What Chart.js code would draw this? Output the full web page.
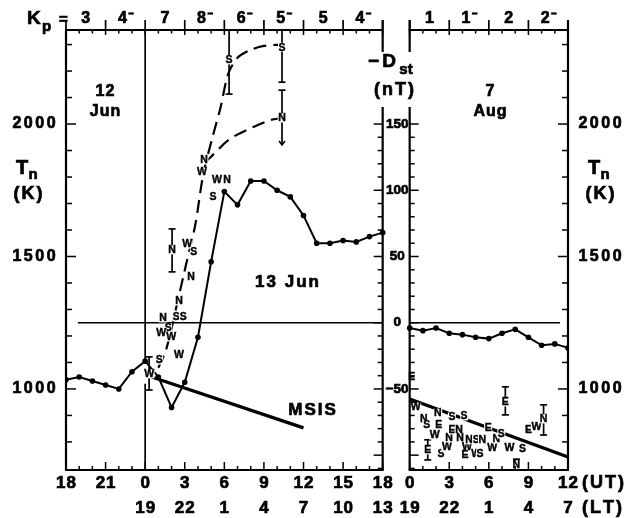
<!DOCTYPE html>
<html>
<head>
<script src="https://cdn.jsdelivr.net/npm/chart.js@4.4.0/dist/chart.umd.min.js"></script>
<style>
  body { margin: 0; background: #fff; }
</style>
</head>
<body>
<canvas id="chart" width="636" height="518"></canvas>

<script>
// ---- data (hours are UT) ----
// -Dst, hourly, 12-13 Jun (left panel) and 7 Aug (right panel)
var dstJunHours = [-6,-5,-4,-3,-2,-1,0,1,2,3,4,5,6,7,8,9,10,11,12,13,14,15,16,17,18];
var dstJun = [-43,-41,-44,-47,-50,-37,-29,-41,-64,-45,-11,46,99,89,107,107,100,95,81,60,60,62,61,65,68];
var dstAugHours = [0,1,2,3,4,5,6,7,8,9,10,11,12];
var dstAug = [-4,-6,-4,-8,-9,-11,-12,-8,-5,-11,-17,-16,-19];

// MSIS model Tn
var msisJunHours = [0.5, 12];
var msisJun = [1045, 853];
var msisAugHours = [0, 12];
var msisAug = [962, 743];

// dashed Tn trends, 13 Jun
var upperHours = [1.0, 1.6, 2.5, 3.1, 3.8, 4.4, 5.1, 5.7, 6.3, 7.0, 8.0, 9.0, 10.4];
var upperTn = [1080, 1150, 1340, 1470, 1620, 1810, 1950, 2060, 2190, 2250, 2280, 2295, 2300];
var lowerHours = [4.5, 4.9, 6.4, 8.2, 9.5, 10.4];
var lowerTn = [1855, 1872, 1943, 1989, 2015, 2023];

// Tn measurements by site letter
var letJun = ['W','N','W','S','N','N','N','S','S','S','W','W','W','S','N','W','W','N','S','S','S','N'];
var letJunHours = [0.3,2.04,3.18,3.69,3.48,2.57,1.36,2.35,2.88,1.74,1.21,1.97,2.57,1.06,4.47,4.31,5.45,6.2,5.15,6.36,10.37,10.37];
var letJunTn = [1057,1525,1547,1517,1423,1332,1268,1272,1272,1230,1211,1196,1128,1109,1864,1819,1789,1789,1725,2242,2290,2023];

var letAug = ['E','W','N','S','W','N','E','E','S','W','N','S','S','E','N','N','W','E','N','S','N','W','S','W','N','E','S','E','W','S','N','E','W','N'];
var letAugHours = [0.15,0.46,1.07,1.3,1.9,2.14,2.2,1.37,2.37,2.82,2.98,3.2,4.12,3.2,3.74,3.82,4.35,4.2,4.5,5.04,5.5,5.04,5.34,6.26,6.56,5.95,6.95,7.25,7.56,8.55,8.09,9.0,9.6,10.15];
var letAugTn = [1045,932,887,864,826,909,864,770,755,781,815,894,898,845,845,815,781,751,808,808,808,755,755,777,811,853,830,951,777,774,713,845,857,887];

// error bars (Tn range)
var errJunHours = [0.3, 2.04, 6.36, 10.37, 10.37];
var errJunHi = [1121, 1604, 2420, 2420, 2128];
var errJunLo = [996, 1442, 2113, 2158, 1921];
var errAugHours = [1.37, 7.25, 10.15, 8.09];
var errAugHi = [808, 1008, 940, 735];
var errAugLo = [732, 902, 826, 680];

// Kp and axis labels
var kpJun = ['3','4-','7','8-','6-','5-','5','4-'];
var kpAug = ['1','1-','2','2-'];
var utJun = ['18','21','0','3','6','9','12','15','18'];
var ltJun = ['19','22','1','4','7','10','13'];
var utAug = ['0','3','6','9','12'];
var ltAug = ['19','22','1','4','7'];
var tnLabels = [1000, 1500, 2000];
var dstLabels = [150, 100, 50, 0, -50];

// ---- scale setup ----
var TN_MIN = 694, TN_MAX = 2355;
var GAP = 24 + 27 / 13.2;          // where the Aug panel starts on the shared hour axis
function uJun(t) { return t + 6; }
function uAug(t) { return GAP + t; }
function pts(hrs, vals, f) { return hrs.map(function (h, i) { return { x: f(h), y: vals[i] }; }); }

var FONT = '"Liberation Sans", Arial, sans-serif';

// bold text, drawn char by char so the wide lettering spacing can be matched
function txt(ctx, s, x, y, size, align, sp) {
  ctx.font = 'bold ' + size + 'px ' + FONT;
  sp = sp || 0;
  var ws = [], w = 0;
  for (var i = 0; i < s.length; i++) { var cw = ctx.measureText(s[i]).width; ws.push(cw); w += cw; }
  w += sp * (s.length - 1);
  var x0 = align === 'left' ? x : (align === 'right' ? x - w : x - w / 2);
  ctx.textAlign = 'left';
  ctx.textBaseline = 'middle';
  ctx.lineWidth = 0.7;
  for (i = 0; i < s.length; i++) { ctx.fillText(s[i], x0, y); ctx.strokeText(s[i], x0, y); x0 += ws[i] + sp; }
  return w;
}

function lineSeg(ctx, x1, y1, x2, y2, w) {
  ctx.lineWidth = w || 1.5;
  ctx.beginPath(); ctx.moveTo(x1, y1); ctx.lineTo(x2, y2); ctx.stroke();
}

var decor = {
  id: 'decor',
  afterDatasetsDraw: function (chart) {
    var ctx = chart.ctx;
    var xs = chart.scales.x, ys = chart.scales.y, yd = chart.scales.yd;
    var X = function (u) { return xs.getPixelForValue(u); };
    var Y = function (t) { return ys.getPixelForValue(t); };
    var YD = function (d) { return yd.getPixelForValue(d); };
    var top = chart.chartArea.top, bot = chart.chartArea.bottom;
    var xL = X(0), xM1 = X(24), xM2 = X(GAP), xR = X(GAP + 12);
    ctx.save();
    ctx.strokeStyle = '#000';
    ctx.fillStyle = '#000';

    // error bars
    function bars(hrs, hi, lo, f, arrowIdx) {
      ctx.save();
      ctx.beginPath(); ctx.rect(chart.chartArea.left, top, chart.chartArea.right - chart.chartArea.left, bot - top); ctx.clip();
      for (var i = 0; i < hrs.length; i++) {
        var x = X(f(hrs[i])), y1 = Y(hi[i]), y2 = Y(lo[i]);
        lineSeg(ctx, x, y1, x, y2, 1.7);
        if (hi[i] < TN_MAX) lineSeg(ctx, x - 3.5, y1, x + 3.5, y1, 1.7);
        if (i === arrowIdx) {
          ctx.beginPath(); ctx.moveTo(x - 3, y2 - 4); ctx.lineTo(x, y2); ctx.lineTo(x + 3, y2 - 4); ctx.lineWidth = 1.5; ctx.stroke();
        } else {
          lineSeg(ctx, x - 3.5, y2, x + 3.5, y2, 1.7);
        }
      }
      ctx.restore();
    }
    bars(errJunHours, errJunHi, errJunLo, uJun, 4);
    bars(errAugHours, errAugHi, errAugLo, uAug, -1);

    // site letters
    function letters(ls, hrs, tns, f) {
      ctx.font = 'bold 10.5px ' + FONT;
      ctx.textAlign = 'center'; ctx.textBaseline = 'middle';
      ctx.lineWidth = 0.4;
      for (var i = 0; i < ls.length; i++) {
        var x = X(f(hrs[i])), y = Y(tns[i]);
        var w = ctx.measureText(ls[i]).width;
        ctx.fillStyle = '#fff';
        ctx.fillRect(x - w / 2 - 0.5, y - 4.5, w + 1, 9);
        ctx.fillStyle = '#000';
        ctx.fillText(ls[i], x, y + 0.5);
        ctx.strokeText(ls[i], x, y + 0.5);
      }
    }
    letters(letJun, letJunHours, letJunTn, uJun);
    letters(letAug, letAugHours, letAugTn, uAug);

    // frames
    var w = 2.2;
    lineSeg(ctx, xL, top, xL, bot, w);
    lineSeg(ctx, xL - 1, top, xM1, top, w);
    lineSeg(ctx, xL - 1, bot, xM1 + 1, bot, w);
    lineSeg(ctx, xM2 - 1, top, xR, top, w);
    lineSeg(ctx, xM2 - 1, bot, xR + 1, bot, w);
    lineSeg(ctx, xR, top - 10, xR, bot, w);
    [xM1, xM2].forEach(function (x) {
      lineSeg(ctx, x, top - 10, x, 52, w);
      lineSeg(ctx, x, 107, x, bot, w);
    });

    // hour ticks + Kp separators
    function hourTicks(u0, n) {
      for (var h = 0; h <= n; h++) {
        var x = X(u0 + h), len = h % 3 === 0 ? 8 : 4;
        lineSeg(ctx, x, bot, x, bot - len, 1.5);
        lineSeg(ctx, x, top, x, top + (h % 3 === 0 ? 5 : 3.5), 1.5);
        if (h % 3 === 0) lineSeg(ctx, x, top, x, top - 10, 1.7);
      }
    }
    hourTicks(0, 24);
    hourTicks(GAP, 12);

    // Tn ticks
    for (var t = 800; t <= 2300; t += 100) {
      var len = t % 500 === 0 ? 10 : 6;
      lineSeg(ctx, xL, Y(t), xL + len, Y(t), 1.5);
      lineSeg(ctx, xR, Y(t), xR - len, Y(t), 1.5);
    }
    // Dst ticks
    for (var d = -110; d <= 150; d += 10) {
      var l2 = d % 50 === 0 ? 9 : 5;
      lineSeg(ctx, xM1, YD(d), xM1 - l2, YD(d), 1.5);
      lineSeg(ctx, xM2, YD(d), xM2 + l2, YD(d), 1.5);
    }

    // axis labels
    ctx.fillStyle = '#000';
    utJun.forEach(function (s, i) { txt(ctx, s, X(i * 3), 483, 17, 'center', 1); });
    ltJun.forEach(function (s, i) { txt(ctx, s, X(6 + i * 3), 508, 17, 'center', 1); });
    utAug.forEach(function (s, i) { txt(ctx, s, X(GAP + i * 3), 483, 17, 'center', 1); });
    ltAug.forEach(function (s, i) { txt(ctx, s, X(GAP + i * 3), 508, 17, 'center', 1); });
    txt(ctx, '(UT)', 582, 483, 18, 'left', 2);
    txt(ctx, '(LT)', 582, 508, 18, 'left', 2);

    tnLabels.forEach(function (v) {
      txt(ctx, String(v), 34, Y(v), 16, 'center', 2.5);
      txt(ctx, String(v), 600, Y(v), 16, 'center', 2.5);
    });
    dstLabels.forEach(function (v) {
      txt(ctx, v < 0 ? '\u2212' + Math.abs(v) : String(v), (xM1 + xM2) / 2 + 1, YD(v), 13.5, 'center', 0);
    });

    // Kp row
    function kp(list, u0) {
      list.forEach(function (s, i) {
        var x = X(u0 + 1.5 + i * 3);
        var minus = s.indexOf('-') > 0;
        var wd = txt(ctx, s.replace('-', ''), minus ? x - 3 : x, 19, 16, 'center', 0);
        if (minus) lineSeg(ctx, x - 3 + wd / 2 + 1.5, 13.5, x - 3 + wd / 2 + 7, 13.5, 2.2);
      });
    }
    kp(kpJun, 0);
    kp(kpAug, GAP);
    txt(ctx, 'K', 27, 19, 19, 'left', 0);
    txt(ctx, 'p', 42, 27, 15, 'left', 0);
    txt(ctx, '=', 59, 20, 15, 'left', 0);

    // Tn titles
    [[27, 'left'], [599, 'right']].forEach(function (p) {
      var cx = p[0];
      txt(ctx, 'T', cx - 5, 168, 20, 'center', 0);
      txt(ctx, 'n', cx + 6, 175, 15, 'center', 0);
      txt(ctx, '(K)', cx + 1, 194, 18, 'center', 2);
    });
    // -Dst title
    txt(ctx, '\u2212D', 382, 62, 19, 'center', 3);
    txt(ctx, 'st', 406, 70, 15, 'center', 0);
    txt(ctx, '(nT)', 394, 90, 18, 'center', 2);

    // panel texts
    txt(ctx, '12', 105, 92, 16, 'center', 1);
    txt(ctx, 'Jun', 105, 112, 16, 'center', 1);
    txt(ctx, '13 Jun', 287, 282, 17, 'center', 2);
    txt(ctx, 'MSIS', 312, 410, 17, 'center', 2);
    txt(ctx, '7', 490, 92, 16, 'center', 1);
    txt(ctx, 'Aug', 490, 112, 16, 'center', 1);
    ctx.restore();
  }
};

function lineDs(data, opts) {
  return Object.assign({
    type: 'line', data: data, showLine: true, borderColor: '#000', borderWidth: 1.5,
    pointRadius: 0, fill: false, tension: 0, yAxisID: 'y'
  }, opts || {});
}

var datasets = [
  // 0 UT separator in the June panel
  lineDs([{ x: uJun(0), y: TN_MAX }, { x: uJun(0), y: 1110 }], { borderWidth: 1.7 }),
  lineDs([{ x: uJun(0), y: 1020 }, { x: uJun(0), y: TN_MIN }], { borderWidth: 1.7 }),
  // -Dst = 0 reference lines
  lineDs([{ x: uJun(-5.1), y: 0 }, { x: uJun(18), y: 0 }], { yAxisID: 'yd', borderWidth: 1.4 }),
  lineDs([{ x: uAug(0), y: 0 }, { x: uAug(11.4), y: 0 }], { yAxisID: 'yd', borderWidth: 1.4 }),
  // MSIS
  lineDs(pts(msisJunHours, msisJun, uJun), { borderWidth: 3.2 }),
  lineDs(pts(msisAugHours, msisAug, uAug), { borderWidth: 3.2 }),
  // dashed Tn trends
  lineDs(pts(upperHours, upperTn, uJun), { borderWidth: 2.2, borderDash: [13, 7], tension: 0.3 }),
  lineDs(pts(lowerHours, lowerTn, uJun), { borderWidth: 2.2, borderDash: [13, 7], tension: 0.3 }),
  // -Dst
  lineDs(pts(dstJunHours, dstJun, uJun), { yAxisID: 'yd', borderWidth: 2, pointRadius: 2.8, pointBackgroundColor: '#000', pointBorderWidth: 0 }),
  lineDs(pts(dstAugHours, dstAug, uAug), { yAxisID: 'yd', borderWidth: 2, pointRadius: 2.8, pointBackgroundColor: '#000', pointBorderWidth: 0 })
];

new Chart(document.getElementById('chart'), {
  type: 'scatter',
  data: { datasets: datasets },
  options: {
    responsive: false,
    animation: false,
    devicePixelRatio: 1,
    layout: { padding: { left: 66, right: 68, top: 30, bottom: 48 } },
    plugins: { legend: { display: false }, tooltip: { enabled: false } },
    scales: {
      x: { type: 'linear', min: 0, max: GAP + 12, display: false },
      y: { type: 'linear', min: TN_MIN, max: TN_MAX, display: false },
      yd: { type: 'linear', position: 'right', min: (TN_MIN - 1250) / 5, max: (TN_MAX - 1250) / 5, display: false }
    }
  },
  plugins: [decor]
});
</script>
</body>
</html>
